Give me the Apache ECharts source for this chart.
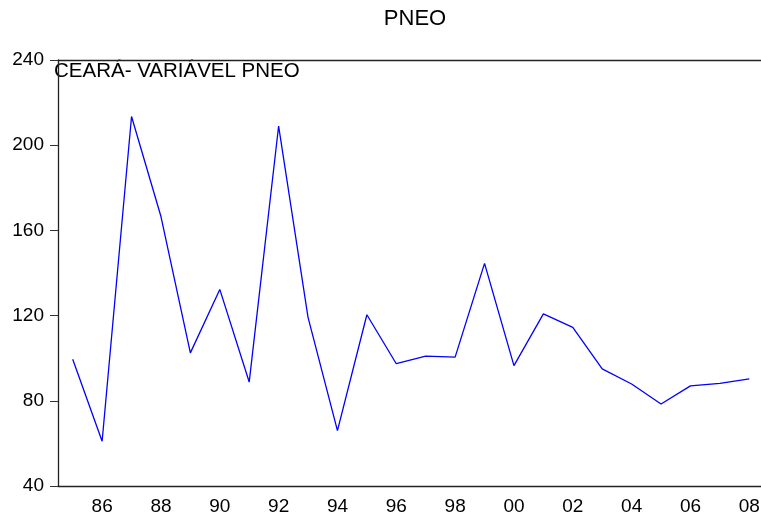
<!DOCTYPE html>
<html>
<head>
<meta charset="utf-8">
<style>
  html, body { margin: 0; padding: 0; background: #fff; overflow: hidden; }
  #chart { width: 764px; height: 519px; }
</style>
<script src="https://cdn.jsdelivr.net/npm/echarts@6/dist/echarts.min.js"></script>
</head>
<body>
<div id="chart"></div>
<script>
// anos da série (1985-2008)
var years = ['85','86','87','88','89','90','91','92','93','94','95','96',
             '97','98','99','00','01','02','03','04','05','06','07','08'];
// valores da variável PNEO
var pneo = [99.5, 61, 213.5, 166.5, 102.5, 132.3, 88.8, 209, 119.2, 66, 120.4, 97.4,
            101, 100.5, 144.5, 96.5, 120.8, 114.5, 95, 87.9, 78.5, 87, 88.2, 90.3];
var yTicks = { min: 40, max: 240, step: 40 };

var font = 'Liberation Sans';
var myChart = echarts.init(document.getElementById('chart'));
myChart.setOption({
  animation: false,
  title: {
    text: 'PNEO',
    left: 410,
    textAlign: 'center',
    top: 3,
    textStyle: { fontFamily: font, fontSize: 22, fontWeight: 'normal', color: '#000' }
  },
  // o quadro passa um pouco da borda direita, como no original
  grid: {
    left: 58, right: 0, top: 60, bottom: 33
  },
  graphic: [{
    type: 'text',
    left: 54, top: 61,
    style: {
      text: 'CEARÁ- VARIÁVEL PNEO',
      fontFamily: font, fontSize: 20.5, fill: '#000'
    }
  }],
  xAxis: [{
    type: 'category',
    data: years,
    boundaryGap: true,
    axisLine: { lineStyle: { color: '#222', width: 1.3 } },
    axisTick: { interval: 0, length: 7, lineStyle: { color: '#333' } },
    axisLabel: {
      interval: function (i) { return i % 2 === 1; },
      color: '#000', fontFamily: font, fontSize: 19, margin: 11
    },
    splitLine: { show: false }
  }, {
    // linha superior do quadro
    type: 'category',
    data: years,
    position: 'top',
    axisLine: { lineStyle: { color: '#222', width: 1.3 } },
    axisTick: { show: false },
    axisLabel: { show: false },
    splitLine: { show: false }
  }],
  yAxis: {
    type: 'value',
    min: yTicks.min, max: yTicks.max, interval: yTicks.step,
    axisLine: { show: true, lineStyle: { color: '#222', width: 1.3 } },
    axisTick: { show: true, length: 8, lineStyle: { color: '#333' } },
    axisLabel: { color: '#000', fontFamily: font, fontSize: 19, margin: 14 },
    splitLine: { show: false }
  },
  series: [{
    type: 'line',
    data: pneo,
    showSymbol: false,
    lineStyle: { color: '#0000ff', width: 1.3 }
  }]
});
</script>
</body>
</html>
